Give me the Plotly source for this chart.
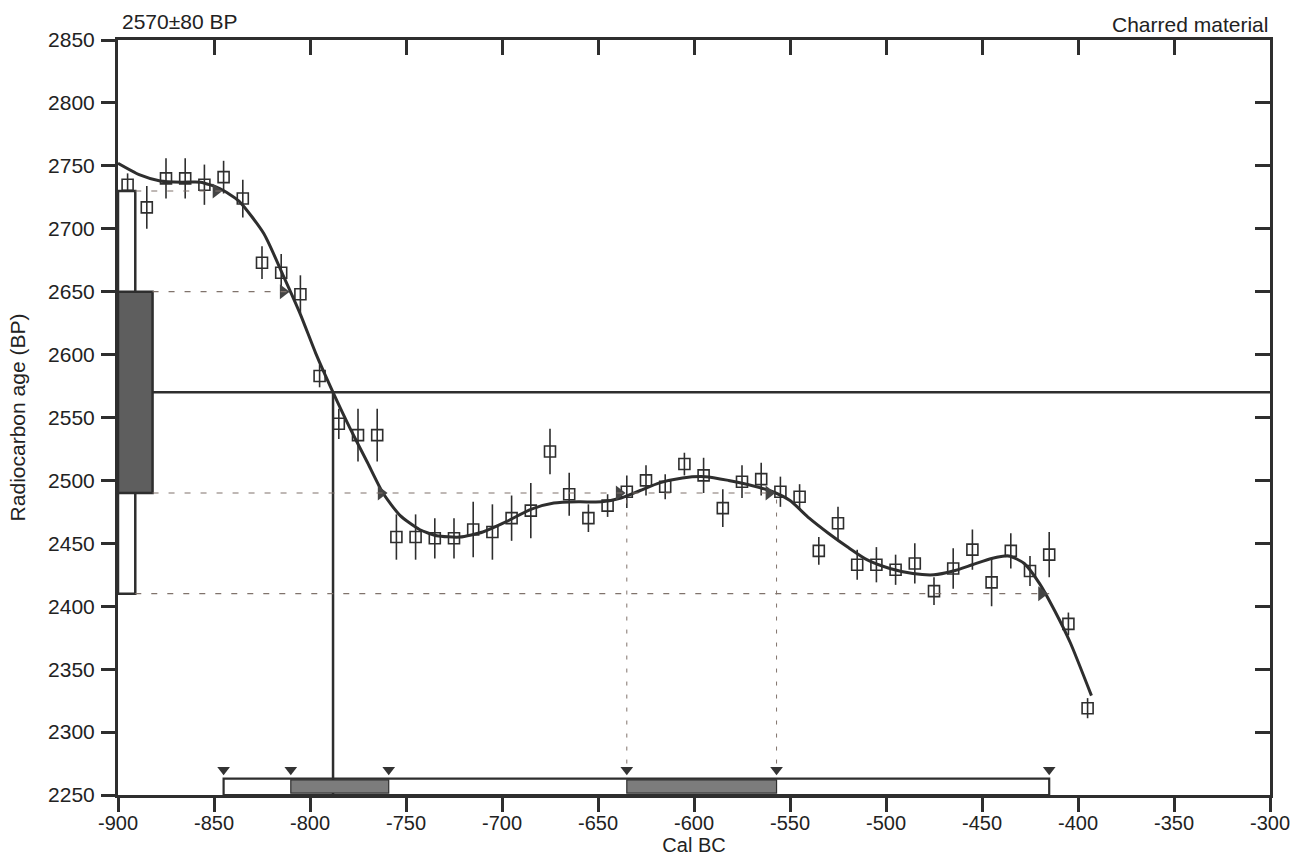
import plotly.graph_objects as go

# ---------------- data ----------------
measured_age = 2570
measured_err = 80

cal_years = [-895, -885, -875, -865, -855, -845, -835, -825, -815, -805,
             -795, -785, -775, -765, -755, -745, -735, -725, -715, -705,
             -695, -685, -675, -665, -655, -645, -635, -625, -615, -605,
             -595, -585, -575, -565, -555, -545, -535, -525, -515, -505,
             -495, -485, -475, -465, -455, -445, -435, -425, -415, -405, -395]
c14_ages = [2735, 2717, 2740, 2740, 2735, 2741, 2724, 2673, 2665, 2648,
            2583, 2545, 2536, 2536, 2455, 2455, 2454, 2454, 2461, 2459,
            2470, 2476, 2523, 2489, 2470, 2480, 2491, 2500, 2495, 2513,
            2504, 2478, 2499, 2501, 2491, 2487, 2444, 2466, 2433, 2433,
            2429, 2434, 2412, 2430, 2445, 2419, 2444, 2428, 2441, 2386, 2319]
c14_errs = [9, 17, 16, 16, 16, 13, 15, 13, 15, 15,
            9, 12, 21, 21, 18, 18, 16, 16, 22, 22,
            18, 22, 18, 17, 11, 9, 13, 12, 10, 9,
            14, 15, 13, 13, 12, 10, 11, 13, 12, 14,
            12, 16, 11, 16, 16, 19, 14, 12, 18, 9, 8]

curve_years = [-900, -889, -878, -867, -857, -847, -837, -824, -814, -805,
               -797, -788, -779, -770, -762, -753, -743, -734, -722, -710,
               -698, -685, -673, -660, -648, -638, -628, -618, -606, -594,
               -582, -570, -559, -550, -540, -530, -520, -510, -498, -486,
               -475, -465, -455, -445, -436, -428, -420, -412, -404, -393]
curve_ages = [2752, 2743, 2738, 2737, 2737, 2732, 2722, 2696, 2663, 2632,
              2601, 2570, 2541, 2514, 2490, 2472, 2461, 2456, 2455, 2459,
              2467, 2477, 2482, 2483, 2483, 2486, 2492, 2498, 2502, 2503,
              2500, 2496, 2491, 2484, 2470, 2458, 2447, 2437, 2430, 2426,
              2425, 2428, 2433, 2438, 2440, 2434, 2418, 2396, 2371, 2329]

intercept_year = -788            # where the measured age meets the curve
one_sigma_ranges = [(-810, -759), (-635, -557)]
two_sigma_ranges = [(-845, -415)]

x_ticks = list(range(-900, -299, 50))
y_ticks = list(range(2250, 2851, 50))
x_tick_text = [str(v) for v in x_ticks]
y_tick_text = [str(v) for v in y_ticks]

# ---------------- styling ----------------
INK = "#2e2e2e"
DASH = "#80736c"
FONT = "Liberation Sans, Arial, sans-serif"
FS = 21
FSX = 20
X0, X1 = -900, -300
Y0, Y1 = 2250, 2850
BOX1_X = -882     # right edge of 1-sigma box on y axis
BOX2_X = -891     # right edge of 2-sigma box on y axis
BAR_TOP = 2263    # top of calibrated range bar

s1_lo, s1_hi = measured_age - measured_err, measured_age + measured_err
s2_lo, s2_hi = measured_age - 2 * measured_err, measured_age + 2 * measured_err

fig = go.Figure()

# calibration curve
fig.add_trace(go.Scatter(x=curve_years, y=curve_ages, mode="lines",
                         line=dict(color=INK, width=3, shape="spline", smoothing=0.6),
                         hoverinfo="skip", showlegend=False))

# data points with error bars
fig.add_trace(go.Scatter(x=cal_years, y=c14_ages, mode="markers",
                         marker=dict(symbol="square-open", size=11, color=INK,
                                     line=dict(width=1.6, color=INK)),
                         error_y=dict(type="data", array=c14_errs, visible=True,
                                      color=INK, thickness=1.6, width=0),
                         showlegend=False))

shapes = []
# 2-sigma box on y axis
shapes.append(dict(type="rect", xref="x", yref="y", x0=X0, x1=BOX2_X, y0=s2_lo, y1=s2_hi,
                   line=dict(color=INK, width=2.5), fillcolor="white", layer="above"))
# 1-sigma box on y axis
shapes.append(dict(type="rect", xref="x", yref="y", x0=X0, x1=BOX1_X, y0=s1_lo, y1=s1_hi,
                   line=dict(color=INK, width=2.5), fillcolor="#5e5e5e", layer="above"))
# measured age line and intercept line
shapes.append(dict(type="line", xref="x", yref="y", x0=BOX1_X, x1=X1, y0=measured_age, y1=measured_age,
                   line=dict(color=INK, width=2.5)))
shapes.append(dict(type="line", xref="x", yref="y", x0=intercept_year, x1=intercept_year,
                   y0=Y0, y1=measured_age, line=dict(color=INK, width=2.5)))

# dashed projection lines
dash_style = dict(color=DASH, width=1.2, dash="6px,10px")
all_hi = max(r[1] for r in one_sigma_ranges)
shapes.append(dict(type="line", xref="x", yref="y", x0=BOX1_X, x1=one_sigma_ranges[0][0],
                   y0=s1_hi, y1=s1_hi, line=dash_style))
shapes.append(dict(type="line", xref="x", yref="y", x0=BOX1_X, x1=all_hi,
                   y0=s1_lo, y1=s1_lo, line=dash_style))
shapes.append(dict(type="line", xref="x", yref="y", x0=BOX2_X, x1=two_sigma_ranges[0][0],
                   y0=s2_hi, y1=s2_hi, line=dash_style))
shapes.append(dict(type="line", xref="x", yref="y", x0=BOX2_X, x1=two_sigma_ranges[0][1],
                   y0=s2_lo, y1=s2_lo, line=dash_style))
for xv in one_sigma_ranges[1]:
    shapes.append(dict(type="line", xref="x", yref="y", x0=xv, x1=xv, y0=BAR_TOP + 12, y1=s1_lo,
                       line=dict(color=DASH, width=1, dash="4px,9px")))

# calibrated range bar
for lo, hi in two_sigma_ranges:
    shapes.append(dict(type="rect", xref="x", yref="y", x0=lo, x1=hi, y0=Y0, y1=BAR_TOP,
                       line=dict(color=INK, width=2.2), fillcolor="rgba(0,0,0,0)"))
for lo, hi in one_sigma_ranges:
    shapes.append(dict(type="rect", xref="x", yref="y", x0=lo, x1=hi, y0=Y0 + 1.5, y1=BAR_TOP - 1,
                       line=dict(color=INK, width=1.2), fillcolor="#7c7c7c"))

# arrowheads on the dashed lines (tips at the curve)
arrow_x = [one_sigma_ranges[0][0], one_sigma_ranges[0][1], one_sigma_ranges[1][0],
           one_sigma_ranges[1][1], two_sigma_ranges[0][0], two_sigma_ranges[0][1]]
arrow_y = [s1_hi, s1_lo, s1_lo, s1_lo, s2_hi, s2_lo]
fig.add_trace(go.Scatter(x=[v - 4 for v in arrow_x], y=arrow_y, mode="markers",
                         marker=dict(symbol="triangle-right", size=13, color="#444",
                                     line=dict(width=0)),
                         hoverinfo="skip", showlegend=False))

# down triangles above the range bar
tri_x = sorted([v for r in one_sigma_ranges for v in r] + [v for r in two_sigma_ranges for v in r])
fig.add_trace(go.Scatter(x=tri_x, y=[BAR_TOP + 7] * len(tri_x), mode="markers",
                         marker=dict(symbol="triangle-down", size=11, color="#333",
                                     line=dict(width=0)),
                         hoverinfo="skip", showlegend=False))

# dummy traces for the extra overlay axes (inside top/right ticks, full-length bottom ticks)
fig.add_trace(go.Scatter(x=[X0], y=[Y1], xaxis="x2", yaxis="y2", mode="markers",
                         marker=dict(opacity=0), hoverinfo="skip", showlegend=False))
fig.add_trace(go.Scatter(x=[X0], y=[Y1], xaxis="x3", yaxis="y", mode="markers",
                         marker=dict(opacity=0), hoverinfo="skip", showlegend=False))

axis_common = dict(showgrid=False, zeroline=False, showline=True, linecolor=INK, linewidth=3,
                   tickcolor=INK, tickwidth=3, automargin=False)

fig.update_layout(
    width=1307, height=856,
    margin=dict(l=118, r=37, t=40, b=61),
    paper_bgcolor="white", plot_bgcolor="white",
    font=dict(family=FONT, size=FS, color="#222"),
    shapes=shapes,
    hovermode=False,
    xaxis=dict(range=[X0, X1], tickvals=x_ticks, ticktext=x_tick_text, ticks="outside", ticklen=8,
               title=dict(text="Cal BC", standoff=2, font=dict(size=FSX)),
               tickfont=dict(size=FSX), **axis_common),
    xaxis3=dict(range=[X0, X1], tickvals=x_ticks, overlaying="x", side="bottom", ticks="outside",
                ticklen=14, showticklabels=False, **axis_common),
    yaxis=dict(range=[Y0, Y1], tickvals=y_ticks, ticktext=y_tick_text, ticks="outside", ticklen=14,
               ticklabelstandoff=2,
               title=dict(text="Radiocarbon age (BP)", standoff=17, font=dict(size=FS)),
               tickfont=dict(size=FS), **axis_common),
    xaxis2=dict(range=[X0, X1], tickvals=x_ticks, overlaying="x", side="top", ticks="inside",
                ticklen=15, showticklabels=False, **axis_common),
    yaxis2=dict(range=[Y0, Y1], tickvals=y_ticks, overlaying="y", side="right", ticks="inside",
                ticklen=15, showticklabels=False, **axis_common),
    annotations=[
        dict(text=f"{measured_age}±{measured_err} BP", xref="paper", yref="paper",
             x=0.002, y=1 + 18 / 755, xanchor="left", yanchor="middle", showarrow=False,
             font=dict(size=FS, color="#222")),
        dict(text="Charred material", xref="paper", yref="paper",
             x=1.0, y=1 + 16 / 755, xanchor="right", yanchor="middle", showarrow=False,
             font=dict(size=FS, color="#222")),
    ],
)

fig.write_html("out.html", config={"displayModeBar": False},
               post_script="document.body.style.margin='0';")
